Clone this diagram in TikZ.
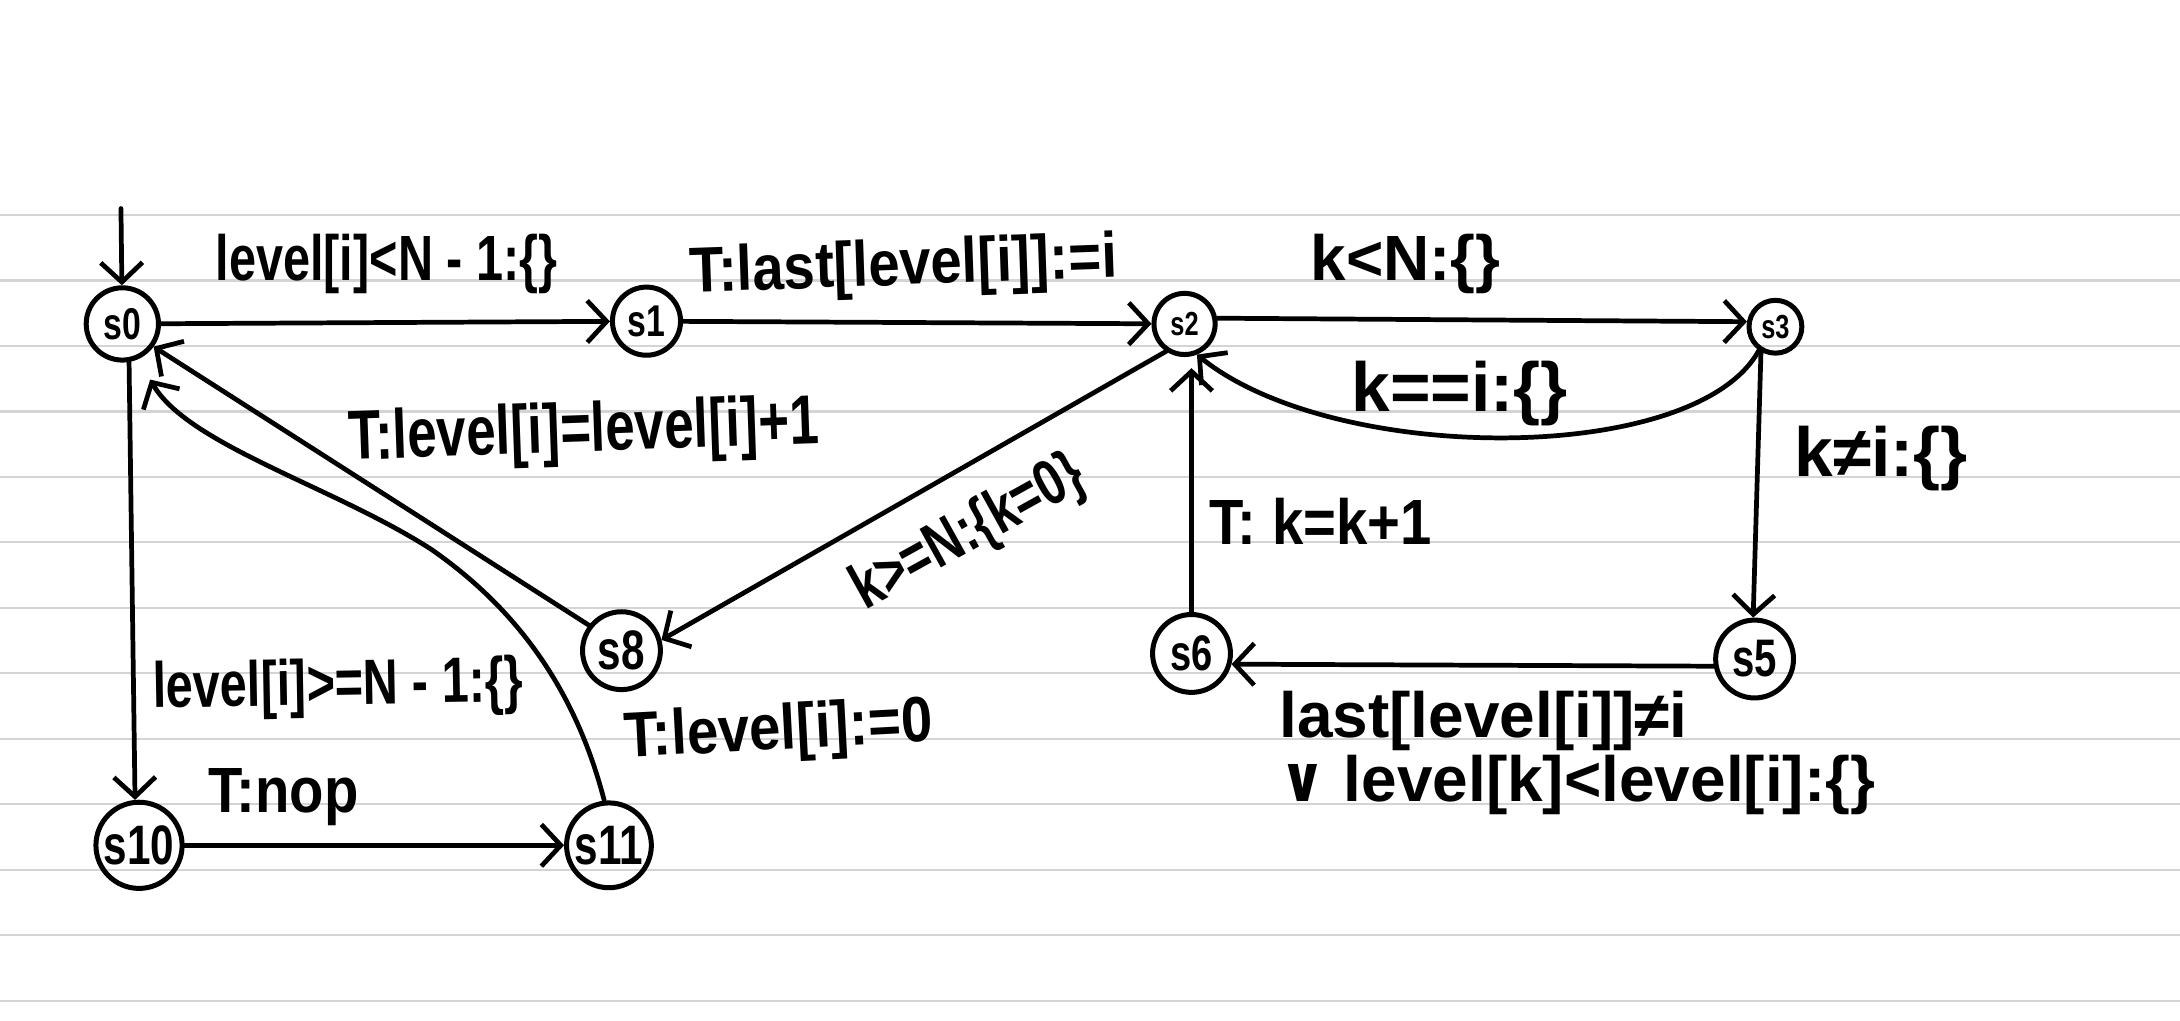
\documentclass[tikz,border=0pt]{standalone}
\usepackage{fontspec}
\newfontfamily\hand{Liberation Sans Bold}[FakeStretch=0.76]
\newfontfamily\handm{Liberation Sans Bold}[FakeStretch=0.88]
\newfontfamily\handw{Liberation Sans Bold}[FakeStretch=1.0]
\newfontfamily\symf{DejaVu Sans Bold}[FakeStretch=0.9]
\usetikzlibrary{arrows.meta}
\begin{document}
\begin{tikzpicture}[x=1pt,y=-1pt,
  st/.style={circle,draw,line width=3.6pt,inner sep=0pt},
  conn/.style={line width=3.4pt,line cap=round,line join=round,-{Straight Barb[length=14pt,width=30pt]}},
  lbl/.style={font=\hand\fontsize{46}{50}\selectfont,inner sep=0pt},
  lblm/.style={font=\handm\fontsize{46}{50}\selectfont,inner sep=0pt},
  lblw/.style={font=\handw\fontsize{46}{50}\selectfont,inner sep=0pt},
  paper/.style={line width=1.6pt,draw=black!17}]
\fill[white] (0,0) rectangle (1568,734);
\useasboundingbox (0,0) rectangle (1568,734);
\foreach \k in {0,...,12}{\draw[paper] (0,{154.6+47.1*\k}) -- (1568,{154.6+47.1*\k});}
% states
\node[st,minimum size=52pt,font=\hand\fontsize{32}{32}\selectfont] (s0) at (88,233) {s0};
\node[st,minimum size=49pt,font=\hand\fontsize{32}{32}\selectfont] (s1) at (465,231) {s1};
\node[st,minimum size=44pt,font=\hand\fontsize{24}{24}\selectfont] (s2) at (852,233) {s2};
\node[st,minimum size=38pt,font=\hand\fontsize{24}{24}\selectfont] (s3) at (1277,235) {s3};
\node[st,minimum size=56pt,font=\hand\fontsize{38}{38}\selectfont] (s5) at (1262,474) {s5};
\node[st,minimum size=56pt,font=\hand\fontsize{36}{36}\selectfont] (s6) at (857,470) {s6};
\node[st,minimum size=56pt,font=\hand\fontsize{40}{40}\selectfont] (s8) at (447,468) {s8};
\node[st,minimum size=62pt,font=\hand\fontsize{40}{40}\selectfont] (s10) at (100,608) {s10};
\node[st,minimum size=61pt,font=\hand\fontsize{40}{40}\selectfont] (s11) at (438,608) {s11};
% connectors
\coordinate (init) at (87,150);
\draw[conn] (init) -- (s0);
\draw[conn] (s0) -- (s1);
\draw[conn] (s1) -- (s2);
\draw[conn] (s2.10) -- (s3.170);
\draw[conn] (s3.235) .. controls (1220,335) and (960,335) .. (s2.-68);
\draw[conn] (s3.240) -- (s5.92);
\draw[conn] (s5.190) -- (s6.-15);
\draw[conn,shorten >=8pt] (s6.north) -- (s6.north |- s2.south);
\draw[conn] (s2.236) -- (s8.15);
\draw[conn] (s8.142) -- (s0.-36);
\draw[conn] (s11.96) .. controls (415,500) and (375,440) .. (310,395) .. controls (240,350) and (135,320) .. ([shift={(20,40)}]s0.center);
\draw[conn] (s0.-80) -- (s10.95);
\draw[conn] (s10) -- (s11);
% labels
\node[lbl] (l01) at (278,190) {level[i]<N - 1:\{\}};
\node[lblm,rotate=2] (l12) at (650,193) {T:last[level[i]]:=i};
\node[lblw] (l23) at (1011,190) {k<N:\{\}};
\node[lblw,font=\handw\fontsize{50}{54}\selectfont] (l32) at (1050,283) {k==i:\{\}};
\node[lblw,font=\handw\fontsize{50}{54}\selectfont] (l35) at (1353,330) {k≠i:\{\}};
\node[lblw,align=left,anchor=north west,font=\handw\fontsize{46}{46}\selectfont] (l56) at (920,497) {last[level[i]]≠i\\{\symf ∨} level[k]<level[i]:\{\}};
\node[lblm] (l62) at (950,375) {T: k=k+1};
\node[lbl,rotate=29] (l28) at (697,384) {k>=N:\{k=0\}};
\node[lbl,rotate=2,font=\hand\fontsize{50}{54}\selectfont] (l80) at (420,312) {T:level[i]=level[i]+1};
\node[lbl,rotate=1] (l010) at (243,495) {level[i]>=N - 1:\{\}};
\node[lblm] (l1011) at (204,573) {T:nop};
\node[lblm,rotate=3] (l110) at (560,527) {T:level[i]:=0};
\end{tikzpicture}
\end{document}
